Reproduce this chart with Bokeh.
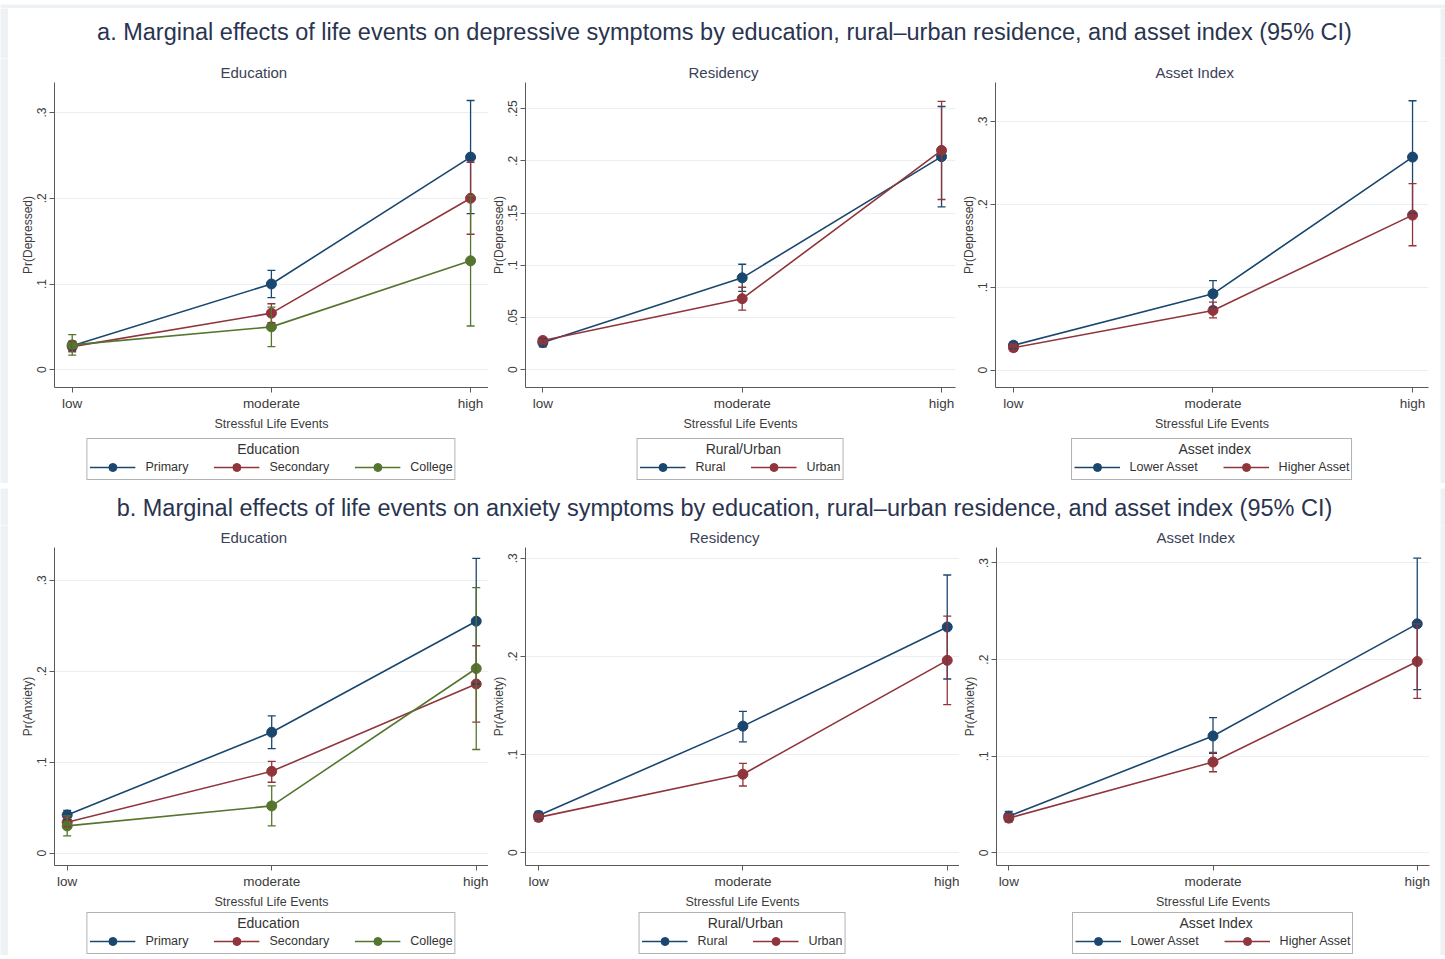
from bokeh.plotting import figure
from bokeh.models import (ColumnDataSource, Whisker, TeeHead, FixedTicker, Range1d,
                          Legend, LegendItem, Label)
from bokeh.layouts import column, row
from bokeh.embed import file_html
from bokeh.resources import INLINE

FONT = "Liberation Sans"
NAVY = "#1a476f"
MAROON = "#90353b"
GREEN = "#55752f"
TXT = "#2a3450"
GREY = "#eff2f5"

# ---------------- data ----------------
levels = ["low", "moderate", "high"]
x_pos = [0, 1, 2]

title_a = "a. Marginal effects of life events on depressive symptoms by education, rural\u2013urban residence, and asset index (95% CI)"
title_b = "b. Marginal effects of life events on anxiety symptoms by education, rural\u2013urban residence, and asset index (95% CI)"
x_label = "Stressful Life Events"

# a. depressive symptoms -- education
dep_edu_primary = [0.028, 0.100, 0.248]
dep_edu_primary_lo = [0.023, 0.084, 0.182]
dep_edu_primary_hi = [0.033, 0.116, 0.314]
dep_edu_secondary = [0.027, 0.066, 0.200]
dep_edu_secondary_lo = [0.021, 0.055, 0.158]
dep_edu_secondary_hi = [0.033, 0.077, 0.242]
dep_edu_college = [0.029, 0.050, 0.127]
dep_edu_college_lo = [0.017, 0.027, 0.051]
dep_edu_college_hi = [0.041, 0.073, 0.203]
# a. depressive symptoms -- residency
dep_res_rural = [0.026, 0.088, 0.204]
dep_res_rural_lo = [0.022, 0.075, 0.156]
dep_res_rural_hi = [0.030, 0.101, 0.252]
dep_res_urban = [0.028, 0.068, 0.210]
dep_res_urban_lo = [0.025, 0.057, 0.163]
dep_res_urban_hi = [0.031, 0.079, 0.257]
# a. depressive symptoms -- asset index
dep_ast_lower = [0.030, 0.092, 0.257]
dep_ast_lower_lo = [0.026, 0.076, 0.189]
dep_ast_lower_hi = [0.034, 0.108, 0.325]
dep_ast_higher = [0.027, 0.072, 0.187]
dep_ast_higher_lo = [0.023, 0.063, 0.150]
dep_ast_higher_hi = [0.031, 0.082, 0.225]

# b. anxiety symptoms -- education
anx_edu_primary = [0.042, 0.133, 0.255]
anx_edu_primary_lo = [0.037, 0.115, 0.186]
anx_edu_primary_hi = [0.047, 0.151, 0.324]
anx_edu_secondary = [0.034, 0.090, 0.186]
anx_edu_secondary_lo = [0.029, 0.078, 0.144]
anx_edu_secondary_hi = [0.039, 0.101, 0.228]
anx_edu_college = [0.030, 0.052, 0.203]
anx_edu_college_lo = [0.019, 0.030, 0.114]
anx_edu_college_hi = [0.041, 0.074, 0.292]
# b. anxiety symptoms -- residency
anx_res_rural = [0.038, 0.129, 0.230]
anx_res_rural_lo = [0.034, 0.113, 0.177]
anx_res_rural_hi = [0.042, 0.144, 0.283]
anx_res_urban = [0.036, 0.080, 0.196]
anx_res_urban_lo = [0.032, 0.068, 0.151]
anx_res_urban_hi = [0.039, 0.091, 0.241]
# b. anxiety symptoms -- asset index
anx_ast_lower = [0.038, 0.121, 0.237]
anx_ast_lower_lo = [0.033, 0.103, 0.169]
anx_ast_lower_hi = [0.043, 0.140, 0.305]
anx_ast_higher = [0.036, 0.094, 0.198]
anx_ast_higher_lo = [0.032, 0.084, 0.160]
anx_ast_higher_hi = [0.040, 0.104, 0.237]

ticks_01 = [0, 0.1, 0.2, 0.3]
ticks_005 = [0, 0.05, 0.1, 0.15, 0.2, 0.25]
tick_text = {0: "0", 0.05: ".05", 0.1: ".1", 0.15: ".15", 0.2: ".2", 0.25: ".25", 0.3: ".3"}

NBSP = "\u00a0"


def blank(w, h, color="white", bl=0, br=0):
    p = figure(width=w, height=h, toolbar_location=None, output_backend="svg",
               x_axis_type=None, y_axis_type=None, min_border=0,
               min_border_left=bl, min_border_right=br,
               x_range=Range1d(0, 1), y_range=Range1d(0, 1))
    p.outline_line_color = None
    p.border_fill_color = color
    p.background_fill_color = color
    return p


def make_panel(title, title_off, ylabel, yr, yticks, series, legend_title, legend_pad_n,
               xr, bl, br, bt, bb, width, height, leg_h):
    p = figure(width=width, height=height, x_range=Range1d(*xr), y_range=Range1d(*yr),
               toolbar_location=None, output_backend="svg",
               min_border_left=bl, min_border_right=br, min_border_top=bt, min_border_bottom=bb)
    p.outline_line_color = None
    p.background_fill_color = "white"
    p.border_fill_color = "white"
    p.title.text = title
    p.title.align = "left"
    p.title.offset = title_off
    p.title.text_font = FONT
    p.title.text_font_size = "15px"
    p.title.text_font_style = "normal"
    p.title.text_color = "#3a4256"
    p.title.standoff = 3

    p.xgrid.visible = False
    p.ygrid.grid_line_color = "#ebeef2"
    p.ygrid.grid_line_width = 1
    p.ygrid.ticker = FixedTicker(ticks=yticks)

    for ax in (p.xaxis, p.yaxis):
        ax.axis_line_color = "#5a5a5a"
        ax.major_tick_line_color = "#5a5a5a"
        ax.minor_tick_line_color = None
        ax.major_tick_in = 0
        ax.major_tick_out = 5
        ax.major_label_text_font = FONT
        ax.major_label_text_color = "#3c3c3c"
        ax.axis_label_text_font = FONT
        ax.axis_label_text_font_style = "normal"
        ax.axis_label_text_color = "#3c3c3c"

    p.xaxis.ticker = FixedTicker(ticks=x_pos)
    p.xaxis.major_label_overrides = {x: l for x, l in zip(x_pos, levels)}
    p.xaxis.major_label_text_font_size = "13.5px"
    p.xaxis.axis_label = x_label
    p.xaxis.axis_label_text_font_size = "12.5px"
    p.xaxis.major_label_standoff = 3
    p.xaxis.axis_label_standoff = 3

    p.yaxis.ticker = FixedTicker(ticks=yticks)
    p.yaxis.major_label_overrides = {t: tick_text[t] for t in yticks}
    p.yaxis.major_label_orientation = "vertical"
    p.yaxis.major_label_text_font_size = "12px"
    p.yaxis.axis_label = ylabel
    p.yaxis.axis_label_text_font_size = "12px"
    p.yaxis.major_label_standoff = 3
    p.yaxis.axis_label_standoff = 0

    # separate legend strip under the plot, frame aligned with the plot frame;
    # its own copies of the series lie outside its (hidden) x range
    lf = blank(width, leg_h, "white", bl, br)
    lf.x_range = Range1d(-10, -9)
    items = []
    for name, color, mean, lo, hi in series:
        src = ColumnDataSource(dict(x=x_pos, y=mean, lo=lo, hi=hi))
        w = Whisker(source=src, base="x", lower="lo", upper="hi", dimension="height",
                    line_color=color, line_width=1.3,
                    lower_head=TeeHead(size=8, line_color=color, line_width=1.3),
                    upper_head=TeeHead(size=8, line_color=color, line_width=1.3))
        w.level = "glyph"
        p.add_layout(w)
        p.line("x", "y", source=src, line_color=color, line_width=1.6)
        p.scatter("x", "y", source=src, size=10, fill_color=color, line_color=color)
        lsrc = ColumnDataSource(dict(x=x_pos, y=mean))
        lr = lf.line("x", "y", source=lsrc, line_color=color, line_width=1.6)
        sr = lf.scatter("x", "y", source=lsrc, size=10, fill_color=color, line_color=color)
        items.append(LegendItem(label=name, renderers=[lr, sr]))

    leg = Legend(items=items, orientation="horizontal",
                 title=NBSP * legend_pad_n + legend_title, location="center")
    leg.title_text_font = FONT
    leg.title_text_font_size = "14px"
    leg.title_text_font_style = "normal"
    leg.title_text_color = "#333333"
    leg.label_text_font = FONT
    leg.label_text_font_size = "12.5px"
    leg.label_text_color = "#333333"
    leg.border_line_color = "#666666"
    leg.border_line_width = 1
    leg.background_fill_color = "white"
    leg.glyph_width = 46
    leg.glyph_height = 20
    leg.label_height = 16
    leg.label_standoff = 10
    leg.spacing = 25
    leg.padding = 2
    leg.title_standoff = 0
    leg.margin = 0
    lf.add_layout(leg, "center")
    return column(p, lf)


def title_fig(text, height, yc):
    p = blank(1432, height)
    p.y_range = Range1d(0, height)
    p.add_layout(Label(x=0.5, y=height - yc, text=text, text_align="center",
                       text_baseline="middle", text_font=FONT, text_font_size="23.5px",
                       text_color=TXT))
    return p


# ---------------- section a ----------------
a1 = make_panel("Education", 166, "Pr(Depressed)", (-0.0207, 0.335), ticks_01,
                [("Primary", NAVY, dep_edu_primary, dep_edu_primary_lo, dep_edu_primary_hi),
                 ("Secondary", MAROON, dep_edu_secondary, dep_edu_secondary_lo, dep_edu_secondary_hi),
                 ("College", GREEN, dep_edu_college, dep_edu_college_lo, dep_edu_college_hi)],
                "Education", 38, (-0.089, 2.09), 46, 0, 24, 48, 480, 377, 48)
a2 = make_panel("Residency", 163, "Pr(Depressed)", (-0.017, 0.275), ticks_005,
                [("Rural", NAVY, dep_res_rural, dep_res_rural_lo, dep_res_rural_hi),
                 ("Urban", MAROON, dep_res_urban, dep_res_urban_lo, dep_res_urban_hi)],
                "Rural/Urban", 17, (-0.087, 2.07), 37, 3, 24, 48, 470, 377, 48)
a3 = make_panel("Asset Index", 160, "Pr(Depressed)", (-0.021, 0.347), ticks_01,
                [("Lower Asset", NAVY, dep_ast_lower, dep_ast_lower_lo, dep_ast_lower_hi),
                 ("Higher Asset", MAROON, dep_ast_higher, dep_ast_higher_lo, dep_ast_higher_hi)],
                "Asset index", 27, (-0.09, 2.08), 37, 12, 24, 48, 482, 377, 48)

# ---------------- section b ----------------
b1 = make_panel("Education", 166, "Pr(Anxiety)", (-0.0135, 0.336), ticks_01,
                [("Primary", NAVY, anx_edu_primary, anx_edu_primary_lo, anx_edu_primary_hi),
                 ("Secondary", MAROON, anx_edu_secondary, anx_edu_secondary_lo, anx_edu_secondary_hi),
                 ("College", GREEN, anx_edu_college, anx_edu_college_lo, anx_edu_college_hi)],
                "Education", 38, (-0.062, 2.06), 46, 0, 21, 46, 480, 386, 44)
b2 = make_panel("Residency", 164, "Pr(Anxiety)", (-0.013, 0.311), ticks_01,
                [("Rural", NAVY, anx_res_rural, anx_res_rural_lo, anx_res_rural_hi),
                 ("Urban", MAROON, anx_res_urban, anx_res_urban_lo, anx_res_urban_hi)],
                "Rural/Urban", 17, (-0.064, 2.06), 36, 0, 21, 46, 471, 386, 44)
b3 = make_panel("Asset Index", 160, "Pr(Anxiety)", (-0.013, 0.316), ticks_01,
                [("Lower Asset", NAVY, anx_ast_lower, anx_ast_lower_lo, anx_ast_lower_hi),
                 ("Higher Asset", MAROON, anx_ast_higher, anx_ast_higher_lo, anx_ast_higher_hi)],
                "Asset Index", 27, (-0.06, 2.06), 36, 11, 21, 46, 481, 386, 44)

ta = title_fig(title_a, 50, 23)
tb = title_fig(title_b, 37, 19)

layout = column(
    blank(1445, 8, GREY),
    row(blank(8, 50, GREY), ta, blank(5, 50, GREY)),
    row(blank(8, 425, GREY), a1, a2, a3, blank(5, 425, GREY)),
    blank(1445, 5, GREY),
    row(blank(8, 37, GREY), tb, blank(5, 37, GREY)),
    row(blank(8, 430, GREY), b1, b2, b3, blank(5, 430, GREY)),
)

open("out.html", "w").write(file_html(layout, INLINE))
